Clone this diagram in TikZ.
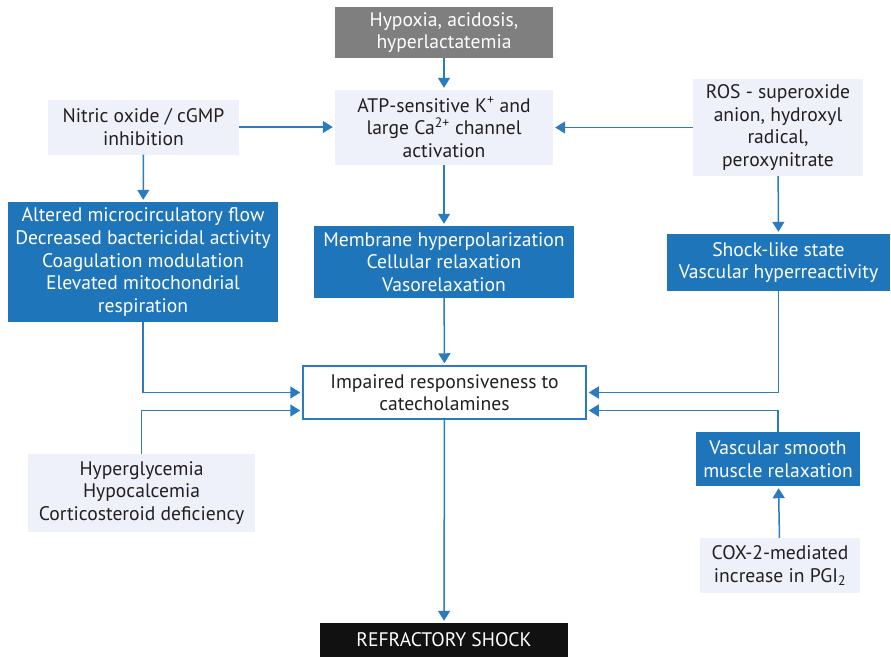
\documentclass[tikz,border=0pt]{standalone}
\usepackage{fontspec}
\setmainfont{PT Sans}
\usetikzlibrary{arrows.meta,calc}
\definecolor{boxblue}{HTML}{1F75BA}
\definecolor{lineblue}{HTML}{2A7BC0}
\definecolor{lav}{HTML}{EEF0FA}
\definecolor{gbox}{HTML}{7F7F7F}
\definecolor{blk}{HTML}{111111}
\definecolor{txt}{HTML}{231F20}
\begin{document}
\begin{tikzpicture}[x=1pt,y=-1pt,
  base/.style={inner sep=0pt,align=center,font=\fontsize{19.6}{22.6}\selectfont},
  lavbox/.style={base,fill=lav,text=txt},
  bluebox/.style={base,fill=boxblue,text=white},
  graybox/.style={base,fill=gbox,text=white},
  blackbox/.style={base,fill=blk,text=white},
  whitebox/.style={base,fill=white,draw=lineblue,line width=1.5pt,text=txt},
  conn/.style={draw=lineblue,line width=1.5pt,-{Triangle[width=12pt,length=10pt]},shorten >=2pt}
]
\useasboundingbox (0,0) rectangle (891,657);
\node[graybox,minimum width=218,minimum height=51] (hyp) at (444,32.5) {Hypoxia, acidosis,\\hyperlactatemia};
\node[lavbox,minimum width=218,minimum height=75] (atp) at (444,127.5) {ATP-sensitive K\textsuperscript{+} and\\large Ca\textsuperscript{2+} channel\\activation};
\node[lavbox,minimum width=191,minimum height=55] (no) at (143.5,127) {Nitric oxide / cGMP\\inhibition};
\node[lavbox,minimum width=170,minimum height=97] (ros) at (778,127.5) {ROS - superoxide\\anion, hydroxyl\\radical,\\peroxynitrate};
\node[bluebox,minimum width=270,minimum height=120] (lb) at (143,262) {Altered microcirculatory flow\\Decreased bactericidal activity\\Coagulation modulation\\Elevated mitochondrial\\respiration};
\node[bluebox,minimum width=260,minimum height=72] (mb) at (444,262) {Membrane hyperpolarization\\Cellular relaxation\\Vasorelaxation};
\node[bluebox,minimum width=223,minimum height=57] (sb) at (778.5,262.5) {Shock-like state\\Vascular hyperreactivity};
\node[whitebox,minimum width=283,minimum height=53] (imp) at (444.5,392.5) {Impaired responsiveness to\\catecholamines};
\node[lavbox,minimum width=227,minimum height=78] (hg) at (141.5,493) {Hyperglycemia\\Hypocalcemia\\Corticosteroid deficiency};
\node[bluebox,minimum width=164,minimum height=54] (vs) at (778,459) {Vascular smooth\\muscle relaxation};
\node[lavbox,minimum width=160,minimum height=55] (cox) at (780,565.5) {COX-2-mediated\\increase in PGI\textsubscript{2}};
\node[blackbox,minimum width=248,minimum height=34] (rs) at (444,640) {REFRACTORY SHOCK};
\coordinate (il) at ($(imp.west)+(0,18)$);
\coordinate (ir) at ($(imp.east)+(0,18)$);
\draw[conn] (hyp) -- (atp);
\draw[conn] (no.east) -- (no.east -| atp.west);
\draw[conn] (ros.west) -- (ros.west -| atp.east);
\draw[conn] (no) -- (lb);
\draw[conn] (ros) -- (sb);
\draw[conn] (atp) -- (mb);
\draw[conn] (lb.south) |- (imp.west);
\draw[conn] (hg.north) |- (il);
\draw[conn] (mb) -- (imp);
\draw[conn] (sb.south) |- (imp.east);
\draw[conn] (vs.north) |- (ir);
\draw[conn] (cox) -- (vs);
\draw[conn] (imp) -- (rs);
\end{tikzpicture}
\end{document}
